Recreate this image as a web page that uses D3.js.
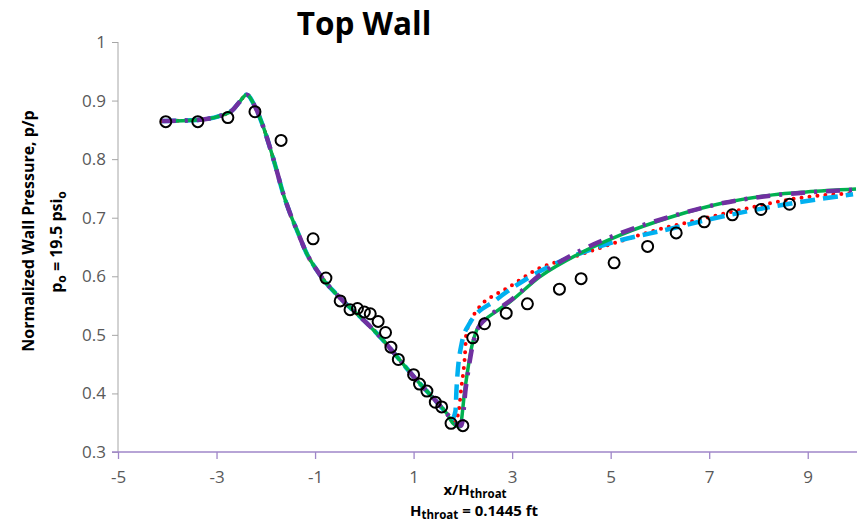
<!DOCTYPE html>
<html>
<head>
<meta charset="utf-8">
<script src="https://cdn.jsdelivr.net/npm/d3@7"></script>
<style>
  body { margin: 0; background: #fff; }
  text { font-family: "Open Sans", sans-serif; }
</style>
</head>
<body>
<div id="chart"></div>
<script>
var width = 862, height = 526;

// tick values
var xTicks = [-5, -3, -1, 1, 3, 5, 7, 9];
var yTicks = [0.3, 0.4, 0.5, 0.6, 0.7, 0.8, 0.9, 1];

// shared upstream part of all computed curves [x/H, p/po]
var upstream = [
  [-4.11, 0.865], [-3.38, 0.867], [-2.93, 0.874], [-2.67, 0.884], [-2.53, 0.898],
  [-2.39, 0.910], [-2.22, 0.890], [-2.05, 0.855], [-1.92, 0.821], [-1.78, 0.781],
  [-1.65, 0.742], [-1.51, 0.708], [-1.34, 0.673], [-1.17, 0.639], [-0.97, 0.611],
  [-0.77, 0.588], [-0.56, 0.569], [-0.36, 0.552], [-0.15, 0.536], [0.05, 0.520],
  [0.38, 0.491], [0.72, 0.457], [1.06, 0.423], [1.40, 0.392], [1.67, 0.366]
];

// downstream parts
var greenTail = [
  [1.80, 0.349], [1.94, 0.343], [2.04, 0.406], [2.11, 0.446], [2.18, 0.480],
  [2.28, 0.508], [2.44, 0.525], [2.68, 0.540], [2.95, 0.556], [3.56, 0.599],
  [4.37, 0.639], [5.18, 0.670], [6.26, 0.702], [7.28, 0.725], [8.29, 0.739],
  [8.97, 0.744], [9.98, 0.749]
];
var purpleTail = [
  [1.82, 0.352], [1.97, 0.345], [2.06, 0.410], [2.13, 0.450], [2.20, 0.483],
  [2.30, 0.510], [2.46, 0.527], [2.70, 0.543], [2.97, 0.559], [3.56, 0.602],
  [4.37, 0.643], [5.18, 0.673], [6.26, 0.703], [7.28, 0.725], [8.29, 0.738],
  [8.97, 0.743], [9.98, 0.748]
];
var cyanTail = [
  [1.78, 0.356], [1.85, 0.370], [1.87, 0.406], [1.97, 0.483], [2.14, 0.520],
  [2.68, 0.560], [3.36, 0.599], [4.78, 0.651], [6.26, 0.682], [6.94, 0.696],
  [8.29, 0.719], [9.92, 0.740]
];
var redTail = [
  [1.80, 0.352], [1.90, 0.363], [1.97, 0.411], [2.04, 0.463], [2.07, 0.503],
  [2.14, 0.520], [2.34, 0.548], [2.71, 0.571], [2.88, 0.579], [3.56, 0.614],
  [4.24, 0.633], [5.05, 0.656], [5.93, 0.679], [6.61, 0.693], [7.62, 0.713],
  [8.77, 0.733], [9.92, 0.742]
];

// experimental points
var expData = [
  [-4.03, 0.864], [-3.38, 0.864], [-2.77, 0.871], [-2.22, 0.881], [-1.69, 0.832],
  [-1.04, 0.664], [-0.78, 0.597], [-0.49, 0.558], [-0.29, 0.543], [-0.14, 0.545],
  [0.00, 0.539], [0.12, 0.536], [0.28, 0.523], [0.43, 0.504], [0.54, 0.479],
  [0.69, 0.458], [1.00, 0.432], [1.12, 0.416], [1.27, 0.404], [1.44, 0.385],
  [1.57, 0.377], [1.76, 0.349], [2.00, 0.345], [2.20, 0.495], [2.44, 0.519],
  [2.88, 0.537], [3.31, 0.553], [3.96, 0.578], [4.40, 0.596], [5.07, 0.623],
  [5.75, 0.651], [6.33, 0.674], [6.90, 0.693], [7.47, 0.705], [8.05, 0.714],
  [8.63, 0.723]
];

var series = [
  {name: 'red', data: upstream.concat(redTail), color: '#ff0000', w: 4, dash: '0,8', cap: 'round'},
  {name: 'cyan', data: upstream.concat(cyanTail), color: '#00b0f0', w: 4.5, dash: '15,8', cap: 'butt'},
  {name: 'green', data: upstream.concat(greenTail), color: '#00b050', w: 3.5, dash: null, cap: 'butt'},
  {name: 'purple', data: upstream.concat(purpleTail), color: '#7030a0', w: 4.5, dash: '14,9,3,9', cap: 'butt'}
];

var svg = d3.select('#chart')
  .append('svg')
  .attr('width', width)
  .attr('height', height);

var x = d3.scaleLinear().domain([-5, 10]).range([118, 857]);
var y = d3.scaleLinear().domain([0.3, 1]).range([452, 42]);

// y axis
var yAxis = svg.append('g')
  .attr('transform', 'translate(118,0)')
  .call(d3.axisLeft(y).tickValues(yTicks).tickSize(6).tickPadding(6)
    .tickFormat(function(d){ return d === 1 ? '1' : d.toFixed(1); }));
yAxis.select('.domain').attr('stroke', '#a6a6a6').attr('d', 'M0,' + y(1) + 'V' + (y(0.3) + 1));
yAxis.selectAll('.tick line').attr('stroke', '#a6a6a6');
yAxis.selectAll('.tick text').attr('font-size', 17).attr('fill', '#595959');

// x axis
var xAxis = svg.append('g')
  .attr('transform', 'translate(0,' + y(0.3) + ')')
  .call(d3.axisBottom(x).tickValues(xTicks).tickSize(7).tickPadding(12)
    .tickFormat(function(d){ return String(d); }));
xAxis.select('.domain').attr('stroke', '#9f86c8').attr('stroke-width', 1.3)
  .attr('d', 'M' + (x(-5) - 6) + ',0H' + x(10));
xAxis.selectAll('.tick line').attr('stroke', '#9f86c8').attr('stroke-width', 1.3);
xAxis.selectAll('.tick text').attr('font-size', 17).attr('fill', '#595959');

var line = d3.line()
  .x(function(d){ return x(d[0]); })
  .y(function(d){ return y(d[1]); })
  .curve(d3.curveMonotoneX);

svg.selectAll('path.series')
  .data(series)
  .enter()
  .append('path')
  .attr('class', 'series')
  .attr('d', function(d){ return line(d.data); })
  .attr('fill', 'none')
  .attr('stroke', function(d){ return d.color; })
  .attr('stroke-width', function(d){ return d.w; })
  .attr('stroke-dasharray', function(d){ return d.dash; })
  .attr('stroke-linecap', function(d){ return d.cap; });

svg.selectAll('circle.exp')
  .data(expData)
  .enter()
  .append('circle')
  .attr('class', 'exp')
  .attr('cx', function(d){ return x(d[0]); })
  .attr('cy', function(d){ return y(d[1]); })
  .attr('r', 5.5)
  .attr('fill', 'none')
  .attr('stroke', '#000')
  .attr('stroke-width', 2);

// title
svg.append('text')
  .attr('x', 364).attr('y', 35)
  .attr('text-anchor', 'middle')
  .attr('font-size', 31.5).attr('font-weight', 'bold')
  .text('Top Wall');

// y title
svg.append('text')
  .attr('transform', 'translate(34,231) rotate(-90)')
  .attr('text-anchor', 'middle')
  .attr('font-size', 16).attr('font-weight', 'bold')
  .text('Normalized Wall Pressure, p/p');

var yt2 = svg.append('text')
  .attr('transform', 'translate(62,242) rotate(-90)')
  .attr('text-anchor', 'middle')
  .attr('font-size', 16).attr('font-weight', 'bold');
yt2.append('tspan').text('p');
yt2.append('tspan').attr('font-size', 12).attr('dy', 4).text('o');
yt2.append('tspan').attr('dy', -4).text(' = 19.5 psi');
yt2.append('tspan').attr('font-size', 12).attr('dy', 4).text('o');

// x title
var xt = svg.append('text')
  .attr('x', 475).attr('y', 495)
  .attr('text-anchor', 'middle')
  .attr('font-size', 15).attr('font-weight', 'bold');
xt.append('tspan').text('x/H');
xt.append('tspan').attr('font-size', 11.5).attr('dy', 3).text('throat');

var xt2 = svg.append('text')
  .attr('x', 474).attr('y', 516)
  .attr('text-anchor', 'middle')
  .attr('font-size', 15).attr('font-weight', 'bold');
xt2.append('tspan').text('H');
xt2.append('tspan').attr('font-size', 11.5).attr('dy', 3).text('throat');
xt2.append('tspan').attr('dy', -3).text(' = 0.1445 ft');
</script>
</body>
</html>
